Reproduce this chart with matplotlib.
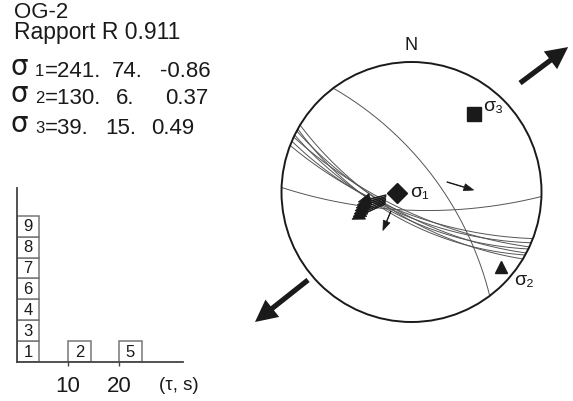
import numpy as np
import matplotlib
matplotlib.use("Agg")
import matplotlib.pyplot as plt
from matplotlib.patches import Circle, Rectangle

plt.rcParams['font.family'] = ['Liberation Sans', 'DejaVu Sans']

# header text
site = "OG-2"
ratio_text = "Rapport R 0.911"
sigma_fields = [["=241.", "74.", "-0.86"], ["=130.", "6.", "0.37"], ["=39.", "15.", "0.49"]]
field_x = [[45, 112, 160], [45, 116, 165], [45, 105, 151]]

# histogram of faults per misfit bin (tau, s)
bin_starts = [0, 10, 20]
bin_faults = [["1", "3", "4", "6", "7", "8", "9"], ["2"], ["5"]]
hist_ticks = [10, 20]

# fault planes: strike, dip (right hand rule)
bundle_strikes = [111, 113, 115, 116, 118, 119, 121]
bundle_dips = [71, 69, 73, 67, 70, 65, 68]
other_strikes = [323, 92]
other_dips = [67, 74]

# stress axes: trend, plunge (as plotted)
s1_axis = (268, 77)
s2_axis = (130, 6)
s3_axis = (39, 15)

# slip arrows in net units (x, y, dx, dy)
slip_arrows = [
    (-0.195, -0.023, -0.215, -0.054),
    (-0.196, -0.035, -0.221, -0.065),
    (-0.198, -0.046, -0.228, -0.077),
    (-0.198, -0.058, -0.236, -0.087),
    (-0.200, -0.069, -0.241, -0.099),
    (-0.201, -0.081, -0.248, -0.108),
    (-0.203, -0.092, -0.255, -0.118),
    (-0.158, -0.146, -0.062, -0.150),
    (0.273, 0.077, 0.205, -0.062),
]
# extension arrows: start (x, y), direction dx, dy
ext_arrows = [((0.835, 0.838), (0.37, 0.277)), ((-0.796, -0.677), (-0.408, -0.323))]

W, H = 573, 401
fig = plt.figure(figsize=(W / 100, H / 100), dpi=100)
ink = '#1a1a1a'

def ftext(x, y, s, size, **kw):
    fig.text(x / W, 1 - y / H, s, fontsize=size, color=ink, va='baseline', ha='left', **kw)

ftext(14, 18, site, 16)
ftext(14, 39, ratio_text, 16.5)
for i, y in enumerate([77, 104, 134]):
    ftext(11, y - 2, "σ", 20, family='DejaVu Sans')
    ftext(35, y - 1, str(i + 1), 12)
    for x, s in zip(field_x[i], sigma_fields[i]):
        ftext(x, y, s, 16)

# histogram
hx = fig.add_axes([17 / W, (H - 362) / H, 166 / W, 174 / H])
hx.set_xlim(0, 32.5)
hx.set_ylim(0, 8.33)
for x0, faults in zip(bin_starts, bin_faults):
    for j, lab in enumerate(faults):
        hx.add_patch(Rectangle((x0, j), 4.4, 1, facecolor='white', edgecolor='#777777', lw=1.1, zorder=2))
        hx.text(x0 + 2.2, j + 0.47, lab, ha='center', va='center', fontsize=12, color=ink, zorder=3)
for sp in ['top', 'right']:
    hx.spines[sp].set_visible(False)
for sp in ['left', 'bottom']:
    hx.spines[sp].set_color('#444444')
    hx.spines[sp].set_linewidth(1.3)
hx.set_xticks(hist_ticks)
hx.set_xticklabels([str(t) for t in hist_ticks], fontsize=16, color=ink)
hx.tick_params(axis='x', length=3, width=1, color='#444444', pad=7)
hx.set_yticks([])
hx.text(31.6, -1.13, "(τ, s)", ha='center', va='center', fontsize=13.5, color=ink)

# stereonet (Wulff, lower hemisphere), 1 unit = 130 px
cx, cy, R = 411.5, 192, 130
sx = fig.add_axes([250 / W, (H - 350) / H, 323 / W, 330 / H])
sx.set_xlim((250 - cx) / R, (573 - cx) / R)
sx.set_ylim((cy - 350) / R, (cy - 20) / R)
sx.axis('off')

def plane_trace(strike, dip, n=200):
    st, dp = np.radians(strike), np.radians(dip)
    dd = st + np.pi / 2
    s = np.array([np.sin(st), np.cos(st), 0.0])
    d = np.array([np.sin(dd) * np.cos(dp), np.cos(dd) * np.cos(dp), np.sin(dp)])
    t = np.linspace(0, np.pi, n)
    v = np.outer(np.cos(t), s) + np.outer(np.sin(t), d)
    plunge = np.arcsin(np.clip(v[:, 2], -1, 1))
    trend = np.arctan2(v[:, 0], v[:, 1])
    r = np.tan((np.pi / 2 - plunge) / 2)
    return r * np.sin(trend), r * np.cos(trend)

def line_point(trend, plunge):
    tr, pl = np.radians(trend), np.radians(plunge)
    r = np.tan((np.pi / 2 - pl) / 2)
    return r * np.sin(tr), r * np.cos(tr)

sx.add_patch(Circle((0, 0), 1, fill=False, edgecolor=ink, lw=1.4, zorder=3))
for st, dp in zip(bundle_strikes + other_strikes, bundle_dips + other_dips):
    x, y = plane_trace(st, dp)
    sx.plot(x, y, color='#555555', lw=0.7, zorder=2)

sx.text(0, 1.13, "N", ha='center', va='center', fontsize=13, color=ink)

x1, y1 = line_point(*s1_axis)
x2, y2 = line_point(*s2_axis)
x3, y3 = line_point(*s3_axis)
sx.plot(x1, y1, 'D', ms=10, color=ink, zorder=4)
sx.plot(x2, y2, '^', ms=9, color=ink, zorder=4)
sx.plot(x3, y3, 's', ms=10, color=ink, zorder=4)
sx.text(x1 + 0.1, y1, "σ₁", fontsize=14, color=ink, va='center', ha='left')
sx.text(x3 + 0.07, y3 + 0.06, "σ₃", fontsize=14, color=ink, va='center', ha='left')
sx.text(x2 + 0.1, y2 - 0.1, "σ₂", fontsize=14, color=ink, va='center', ha='left')

for i, (x, y, dx, dy) in enumerate(slip_arrows):
    big = i < 7
    sx.arrow(x, y, dx, dy, width=0.005, head_width=0.085 if big else 0.055,
             head_length=0.095 if big else 0.075,
             length_includes_head=True, color=ink, lw=0.5, zorder=5)

for (x, y), (dx, dy) in ext_arrows:
    sx.arrow(x, y, dx, dy, width=0.04, head_width=0.17, head_length=0.17,
             length_includes_head=True, color=ink, lw=0, zorder=5)

fig.savefig("out.png", dpi=100)
